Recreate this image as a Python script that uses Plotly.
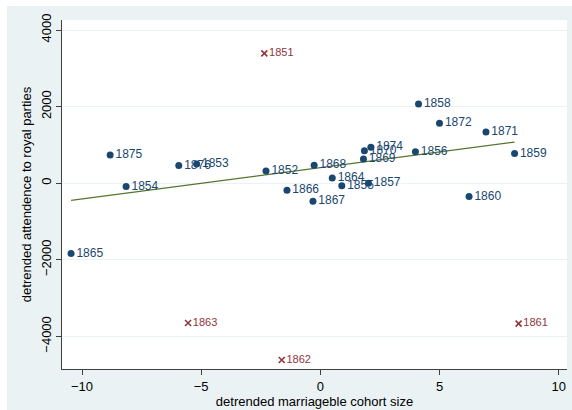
import numpy as np
import plotly.graph_objects as go

# regular years (dots)
years = ["1852", "1853", "1854", "1855", "1856", "1857", "1858", "1859", "1860",
         "1864", "1865", "1866", "1867", "1868", "1869", "1870", "1871", "1872",
         "1874", "1875", "1876"]
cohort = [-2.28, -5.19, -8.15, 0.90, 3.99, 2.02, 4.12, 8.15, 6.24,
          0.50, -10.46, -1.40, -0.31, -0.26, 1.81, 1.85, 6.95, 5.00,
          2.12, -8.82, -5.94]
attend = [321, 503, -89, -70, 824, -5, 2069, 772, -350,
          138, -1836, -183, -470, 470, 634, 850, 1338, 1565,
          939, 738, 459]

# outlier years (crosses)
out_years = ["1851", "1861", "1862", "1863"]
out_cohort = [-2.35, 8.32, -1.62, -5.55]
out_attend = [3391, -3669, -4616, -3651]

x_ticks = [-10, -5, 0, 5, 10]
y_ticks = [-4000, -2000, 0, 2000, 4000]

NAVY = "#1a476f"
MAROON = "#90353b"
GREEN = "#55752f"
BG = "#eaf2f3"
FONT = "Liberation Sans, Arial, sans-serif"

# linear fit on regular years
slope, intercept = np.polyfit(np.array(cohort), np.array(attend), 1)
fx = np.array([min(cohort), max(cohort)])
fy = intercept + slope * fx

fig = go.Figure()
fig.add_trace(go.Scatter(
    x=fx, y=fy, mode="lines", line=dict(color=GREEN, width=1.3),
    hoverinfo="skip", showlegend=False))
fig.add_trace(go.Scatter(
    x=cohort, y=attend, mode="markers+text", text=years,
    textposition="middle right",
    textfont=dict(family=FONT, size=12, color=NAVY),
    marker=dict(color=NAVY, size=7), showlegend=False))
fig.add_trace(go.Scatter(
    x=out_cohort, y=out_attend, mode="markers+text", text=out_years,
    textposition="middle right",
    textfont=dict(family=FONT, size=11, color=MAROON),
    marker=dict(color=MAROON, size=6, symbol="x-thin",
                line=dict(color=MAROON, width=1.6)),
    showlegend=False))

fig.update_layout(
    width=572, height=410,
    margin=dict(l=62, r=5, t=20, b=41),
    paper_bgcolor=BG, plot_bgcolor="white",
    font=dict(family=FONT, size=13, color="black"),
    shapes=[
        dict(type="rect", xref="paper", yref="paper", x0=-0.2, x1=1.2,
             y0=1.0 + 14 / 349.3, y1=1.2, fillcolor="white",
             line=dict(width=0), layer="below"),
        dict(type="rect", xref="paper", yref="paper", x0=-0.2,
             x1=-(62 - 7) / 504.7, y0=-0.3, y1=1.2, fillcolor="white",
             line=dict(width=0), layer="below"),
    ],
    xaxis=dict(
        range=[-10.84, 10.35], tickvals=x_ticks, showgrid=False,
        zeroline=False, showline=True, linecolor="#404040", linewidth=1,
        ticks="outside", ticklen=5, tickcolor="#404040",
        tickfont=dict(size=13),
        title=dict(text="detrended marriageble cohort size", standoff=2,
                   font=dict(size=13))),
    yaxis=dict(
        range=[-4852, 4261], tickvals=y_ticks, tickangle=-90,
        showgrid=True, gridcolor=BG, gridwidth=1.2,
        zeroline=False, showline=True, linecolor="#404040", linewidth=1,
        ticks="outside", ticklen=5, tickcolor="#404040",
        tickfont=dict(size=13),
        title=dict(text="detrended attendence to royal parties", standoff=4,
                   font=dict(size=13))),
)

fig.write_html("out.html")
